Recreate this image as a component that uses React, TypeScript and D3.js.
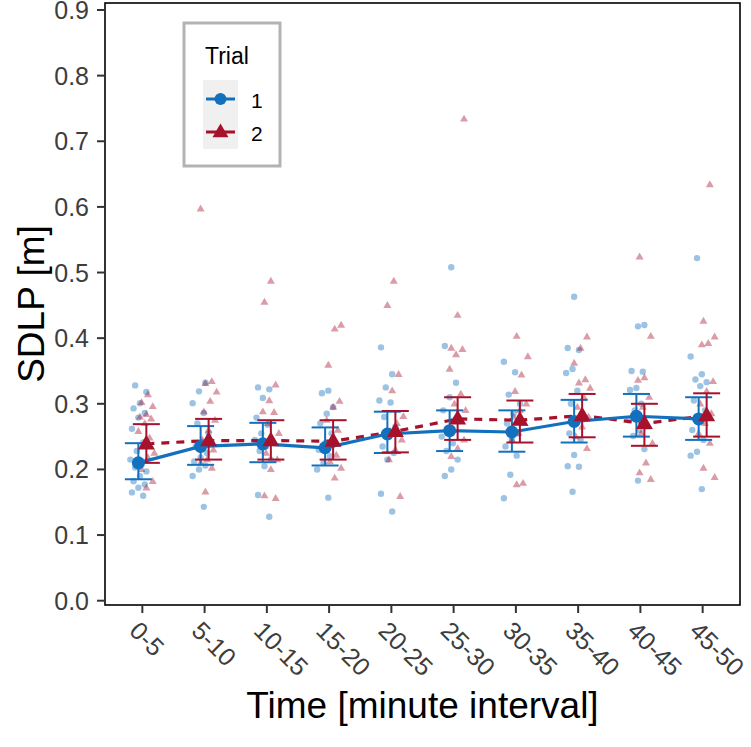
import React from "react";
import * as d3 from "d3";

const categories = ["0-5","5-10","10-15","15-20","20-25","25-30","30-35","35-40","40-45","45-50"];
const yTicks = [0,0.1,0.2,0.3,0.4,0.5,0.6,0.7,0.8,0.9];

const mean1 = [0.210,0.235,0.239,0.233,0.254,0.259,0.257,0.273,0.281,0.277];
const lo1   = [0.185,0.207,0.211,0.206,0.225,0.228,0.227,0.241,0.250,0.245];
const hi1   = [0.240,0.266,0.271,0.264,0.288,0.290,0.290,0.306,0.315,0.310];

const mean2 = [0.239,0.244,0.244,0.243,0.258,0.277,0.275,0.282,0.270,0.282];
const lo2   = [0.210,0.215,0.215,0.215,0.226,0.245,0.241,0.249,0.236,0.250];
const hi2   = [0.269,0.277,0.275,0.275,0.289,0.310,0.305,0.315,0.300,0.316];

const raw1 = [
  [0.328,0.318,0.301,0.293,0.286,0.279,0.262,0.241,0.228,0.215,0.207,0.203,0.197,0.190,0.182,0.177,0.172,0.165,0.160],
  [0.332,0.319,0.301,0.286,0.270,0.255,0.242,0.235,0.225,0.218,0.212,0.206,0.200,0.190,0.143],
  [0.325,0.322,0.309,0.279,0.268,0.255,0.245,0.235,0.228,0.215,0.205,0.161,0.128],
  [0.320,0.316,0.295,0.285,0.270,0.255,0.240,0.230,0.220,0.210,0.200,0.157],
  [0.386,0.345,0.325,0.305,0.302,0.280,0.265,0.250,0.235,0.225,0.215,0.163,0.136],
  [0.508,0.388,0.332,0.310,0.290,0.275,0.260,0.250,0.240,0.228,0.215,0.200,0.190],
  [0.364,0.348,0.314,0.300,0.285,0.270,0.255,0.245,0.235,0.221,0.192,0.156],
  [0.463,0.385,0.382,0.353,0.347,0.320,0.300,0.285,0.270,0.255,0.245,0.222,0.205,0.204,0.166],
  [0.420,0.418,0.350,0.349,0.324,0.321,0.300,0.290,0.275,0.260,0.251,0.231,0.183],
  [0.522,0.372,0.345,0.337,0.333,0.327,0.305,0.290,0.275,0.260,0.245,0.227,0.221,0.170],
];
const raw2 = [
  [0.314,0.302,0.296,0.284,0.280,0.277,0.270,0.258,0.248,0.236,0.225,0.218,0.200,0.182,0.172],
  [0.597,0.334,0.331,0.318,0.304,0.288,0.275,0.260,0.245,0.230,0.215,0.210,0.202,0.166],
  [0.487,0.455,0.329,0.305,0.288,0.287,0.270,0.255,0.240,0.225,0.215,0.200,0.160,0.156],
  [0.420,0.414,0.359,0.304,0.295,0.275,0.260,0.245,0.235,0.222,0.212,0.202,0.187],
  [0.487,0.450,0.345,0.320,0.281,0.270,0.258,0.245,0.230,0.215,0.159],
  [0.734,0.435,0.385,0.383,0.375,0.353,0.315,0.300,0.290,0.275,0.260,0.245,0.232,0.220],
  [0.403,0.372,0.344,0.319,0.300,0.290,0.280,0.270,0.255,0.245,0.179,0.177],
  [0.402,0.385,0.362,0.337,0.332,0.324,0.310,0.295,0.280,0.265,0.250,0.232],
  [0.524,0.403,0.340,0.336,0.310,0.295,0.280,0.265,0.255,0.240,0.210,0.195,0.185],
  [0.634,0.426,0.402,0.392,0.390,0.334,0.319,0.300,0.285,0.270,0.255,0.240,0.202,0.188],
];

const BLUE = "#1370bd";
const RED = "#a6122b";
const FONT = "'Liberation Sans', Arial, sans-serif";

const W = 751, H = 747;
const PL = 105, PR = 740, PT = 3, PB = 605;

function jit(i: number, c: number, t: number) {
  const h = (i * 7 + c * 5 + t * 3) % 11;
  return (h / 10 - 0.5) * 16;
}

function tri(cx: number, cy: number, s: number) {
  const h = s * 0.866;
  return `M${cx},${cy - h * 0.62}L${cx + s / 2},${cy + h * 0.38}L${cx - s / 2},${cy + h * 0.38}Z`;
}

export default function App() {
  const x = d3.scalePoint<string>().domain(categories).range([PL, PR]).padding(0.6);
  const y = d3.scaleLinear().domain([0, 0.9]).range([600.7, 10]);
  const dodge = 4;
  const line = d3.line<[number, number]>().x(d => d[0]).y(d => d[1]);
  const pts1 = categories.map((c, i) => [x(c)! - dodge, y(mean1[i])] as [number, number]);
  const pts2 = categories.map((c, i) => [x(c)! + dodge, y(mean2[i])] as [number, number]);
  const ebw = 13.5;

  return (
    <svg width={W} height={H} style={{ position: "absolute", left: 0, top: 0, background: "#fff" }} fontFamily={FONT}>
      <rect x={0} y={0} width={W} height={H} fill="#fff" />
      {raw1.map((arr, c) => arr.map((v, i) => (
        <circle key={`b${c}-${i}`} cx={x(categories[c])! - dodge + jit(i, c, 1)} cy={y(v)} r={3.2} fill={BLUE} opacity={0.42} />
      )))}
      {raw2.map((arr, c) => arr.map((v, i) => (
        <path key={`r${c}-${i}`} d={tri(x(categories[c])! + dodge + jit(i, c, 2), y(v), 8)} fill={RED} opacity={0.42} />
      )))}
      <path d={line(pts2)!} fill="none" stroke={RED} strokeWidth={3.2} strokeDasharray="8,7" />
      <path d={line(pts1)!} fill="none" stroke={BLUE} strokeWidth={3.2} />
      {categories.map((c, i) => {
        const cx = x(c)! - dodge;
        return (
          <g key={`eb1${i}`} stroke={BLUE} strokeWidth={2}>
            <line x1={cx} x2={cx} y1={y(lo1[i])} y2={y(hi1[i])} />
            <line x1={cx - ebw} x2={cx + ebw} y1={y(lo1[i])} y2={y(lo1[i])} />
            <line x1={cx - ebw} x2={cx + ebw} y1={y(hi1[i])} y2={y(hi1[i])} />
          </g>
        );
      })}
      {categories.map((c, i) => {
        const cx = x(c)! + dodge;
        return (
          <g key={`eb2${i}`} stroke={RED} strokeWidth={2}>
            <line x1={cx} x2={cx} y1={y(lo2[i])} y2={y(hi2[i])} />
            <line x1={cx - ebw} x2={cx + ebw} y1={y(lo2[i])} y2={y(lo2[i])} />
            <line x1={cx - ebw} x2={cx + ebw} y1={y(hi2[i])} y2={y(hi2[i])} />
          </g>
        );
      })}
      {pts1.map((p, i) => <circle key={`m1${i}`} cx={p[0]} cy={p[1]} r={6.5} fill={BLUE} />)}
      {pts2.map((p, i) => <path key={`m2${i}`} d={tri(p[0], p[1], 17)} fill={RED} />)}
      <rect x={PL} y={PT} width={PR - PL} height={PB - PT} fill="none" stroke="#000" strokeWidth={1.6} />
      {yTicks.map(t => (
        <g key={`yt${t}`}>
          <line x1={PL - 8} x2={PL} y1={y(t)} y2={y(t)} stroke="#333" strokeWidth={2} />
          <text x={89} y={y(t)} dy="0.36em" textAnchor="end" fontSize={25} fill="#3d3d3d">{t.toFixed(1)}</text>
        </g>
      ))}
      {categories.map(c => (
        <g key={`xt${c}`}>
          <line x1={x(c)!} x2={x(c)!} y1={PB} y2={PB + 8} stroke="#333" strokeWidth={2} />
          <text transform={`translate(${x(c)! - 2},${PB + 15}) rotate(45)`} dy="0.7em" textAnchor="start" fontSize={25} fill="#3d3d3d">{c}</text>
        </g>
      ))}
      <text x={(PL + PR) / 2} y={718} textAnchor="middle" fontSize={37} fill="#000">Time [minute interval]</text>
      <text transform={`translate(44,${(PT + PB) / 2}) rotate(-90)`} textAnchor="middle" fontSize={37} fill="#000">SDLP [m]</text>
      <rect x={184} y={23} width={96} height={143} fill="#fff" stroke="#b3b3b3" strokeWidth={3} />
      <text x={205} y={64} fontSize={23} fill="#000">Trial</text>
      <rect x={203} y={80} width={35} height={69} fill="#f0f0f0" />
      <line x1={206} x2={235} y1={99} y2={99} stroke={BLUE} strokeWidth={3} />
      <circle cx={220.5} cy={99} r={6} fill={BLUE} />
      <line x1={206} x2={235} y1={132} y2={132} stroke={RED} strokeWidth={3} />
      <path d={tri(220.5, 132, 16)} fill={RED} />
      <text x={251} y={108} fontSize={21} fill="#000">1</text>
      <text x={251} y={141} fontSize={21} fill="#000">2</text>
    </svg>
  );
}
